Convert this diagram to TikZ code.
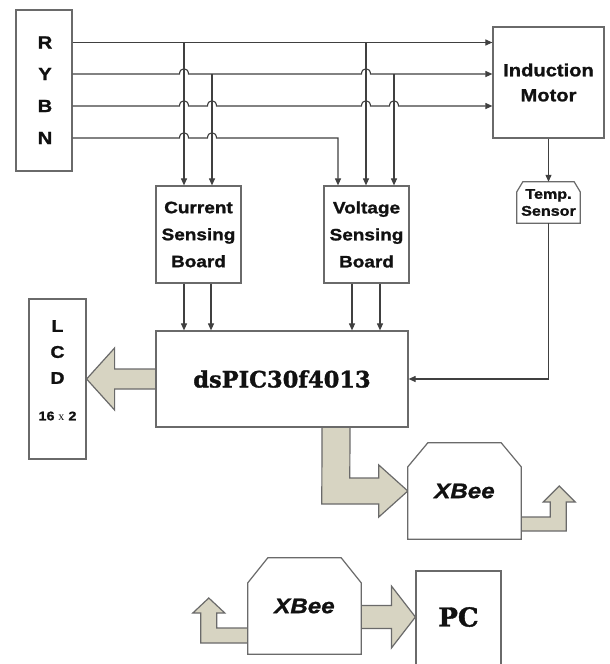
\documentclass[tikz,border=0pt]{standalone}
\usepackage{fontspec}
\setmainfont{Liberation Sans}
\newfontfamily\labf[FakeStretch=1.15, BoldFeatures={FakeBold=1.3}, BoldItalicFeatures={FakeBold=1.3}]{Liberation Sans}
\newfontfamily\slabf[BoldFeatures={FakeBold=1.5}]{DejaVu Serif}
\newfontfamily\timf{Liberation Serif}
\usetikzlibrary{arrows.meta,calc,backgrounds}
\definecolor{edge}{HTML}{6A6A6A}
\definecolor{wire}{HTML}{404040}
\definecolor{khaki}{HTML}{D7D4C2}
\definecolor{ink}{HTML}{111111}
\begin{document}
\begin{tikzpicture}[x=1pt,y=-1pt,
  box/.style={draw=edge, line width=1.2pt, fill=white, inner sep=0pt},
  ghost/.style={inner sep=0pt},
  lbl/.style={font=\labf\bfseries\fontsize{16.5}{27}\selectfont, text=ink, align=center, inner sep=0pt},
  big/.style={font=\labf\bfseries\fontsize{17.5}{25}\selectfont, text=ink, align=center, inner sep=0pt},
  small/.style={font=\labf\bfseries\fontsize{14}{17}\selectfont, text=ink, align=center, inner sep=0pt},
  slab/.style={font=\slabf\bfseries\fontsize{22.5}{27}\selectfont, text=ink, inner sep=0pt},
  xbt/.style={font=\labf\bfseries\itshape\fontsize{21}{22}\selectfont, text=ink, inner sep=0pt},
  wirel/.style={draw=wire, line width=1.1pt},
  arr/.style={wirel, -{Triangle[length=7pt,width=6pt]}},
  fat/.style={draw=edge, line width=1.2pt, fill=khaki, line join=miter}]
\useasboundingbox (0,0) rectangle (610,664);
\clip (0,0) rectangle (610,664);
\begin{scope}[on background layer]
\fill[white] (0,0) rectangle (610,664);
\end{scope}

% boxes
\node[box, minimum width=56pt, minimum height=161pt] (rybn) at (44,90.5) {};
\node[big] (R) at (45,42.5) {R};
\node[big] (Y) at (45,74) {Y};
\node[big] (B) at (45,106) {B};
\node[big] (N) at (45,138) {N};

\node[box, minimum width=111pt, minimum height=111pt, big] (motor) at (548.5,82.5) {Induction\\Motor};

\node[ghost, minimum width=63pt, minimum height=41pt] (temp) at (548.5,202.5) {};
\draw[box] ($(temp.north west)+(0,10)$) -- ($(temp.north west)+(6,0)$) -- ($(temp.north east)+(-6,0)$)
  -- ($(temp.north east)+(0,10)$) -- (temp.south east) -- (temp.south west) -- cycle;
\node[small] (tempt) at (temp.center) {Temp.\\Sensor};

\node[box, minimum width=85pt, minimum height=97pt, lbl] (cur) at (198.5,234.5) {Current\\Sensing\\Board};
\node[box, minimum width=85pt, minimum height=97pt, lbl] (volt) at (366.5,234.5) {Voltage\\Sensing\\Board};

\node[box, minimum width=57pt, minimum height=160pt] (lcd) at (57.5,379) {};
\node[big, font=\labf\bfseries\fontsize{17}{26}\selectfont] (lcdt) at (57.5,352) {L\\C\\D};
\node[big, font=\labf\bfseries\fontsize{12.5}{14}\selectfont] (lcdn) at (57.5,416) {16 {\timf\mdseries\fontsize{12}{14}\selectfont x} 2};

\node[box, minimum width=252pt, minimum height=96pt, slab] (pic) at (282,379) {dsPIC30f4013};

\node[ghost, minimum width=113pt, minimum height=96pt] (xb1) at (464.5,491) {};
\draw[box] ($(xb1.north west)+(0,24)$) -- ($(xb1.north west)+(20,0)$) -- ($(xb1.north east)+(-20,0)$)
  -- ($(xb1.north east)+(0,24)$) -- (xb1.south east) -- (xb1.south west) -- cycle;
\node[xbt] (xb1t) at (xb1.center) {XBee};

\node[ghost, minimum width=113pt, minimum height=96pt] (xb2) at (304.5,606) {};
\draw[box] ($(xb2.north west)+(0,25)$) -- ($(xb2.north west)+(20,0)$) -- ($(xb2.north east)+(-20,0)$)
  -- ($(xb2.north east)+(0,25)$) -- (xb2.south east) -- (xb2.south west) -- cycle;
\node[xbt] (xb2t) at (xb2.center) {XBee};

\node[box, minimum width=85pt, minimum height=110pt] (pcbox) at (458.5,626) {};
\node[font=\slabf\bfseries\fontsize{26}{30}\selectfont, text=ink, inner sep=0pt] (pc) at (458.5,617) {PC};

% columns
\coordinate (k1) at (184,0);
\coordinate (k2) at (212,0);
\coordinate (k3) at (338,0);
\coordinate (k4) at (366,0);
\coordinate (k5) at (394,0);
\coordinate (k6) at (352,0);
\coordinate (k7) at (380,0);

% phase lines
\draw[arr] (rybn.east |- R) -- (motor.west |- R);
\draw[arr] (rybn.east |- Y)
  -- ($(k1|-Y)+(-4.5,0)$) .. controls +(0,-7) and +(0,-7) .. ($(k1|-Y)+(4.5,0)$)
  -- ($(k4|-Y)+(-4.5,0)$) .. controls +(0,-7) and +(0,-7) .. ($(k4|-Y)+(4.5,0)$)
  -- (motor.west |- Y);
\draw[arr] (rybn.east |- B)
  -- ($(k1|-B)+(-4.5,0)$) .. controls +(0,-7) and +(0,-7) .. ($(k1|-B)+(4.5,0)$)
  -- ($(k2|-B)+(-4.5,0)$) .. controls +(0,-7) and +(0,-7) .. ($(k2|-B)+(4.5,0)$)
  -- ($(k4|-B)+(-4.5,0)$) .. controls +(0,-7) and +(0,-7) .. ($(k4|-B)+(4.5,0)$)
  -- ($(k5|-B)+(-4.5,0)$) .. controls +(0,-7) and +(0,-7) .. ($(k5|-B)+(4.5,0)$)
  -- (motor.west |- B);
\draw[arr] (rybn.east |- N)
  -- ($(k1|-N)+(-4.5,0)$) .. controls +(0,-7) and +(0,-7) .. ($(k1|-N)+(4.5,0)$)
  -- ($(k2|-N)+(-4.5,0)$) .. controls +(0,-7) and +(0,-7) .. ($(k2|-N)+(4.5,0)$)
  -- (k3 |- N) -- (k3 |- volt.north);

% taps
\draw[arr] (k1 |- R) -- (k1 |- cur.north);
\draw[arr] (k2 |- Y) -- (k2 |- cur.north);
\draw[arr] (k4 |- R) -- (k4 |- volt.north);
\draw[arr] (k5 |- Y) -- (k5 |- volt.north);

% boards to controller
\draw[arr] (k1 |- cur.south) -- (k1 |- pic.north);
\draw[arr] ($(k2 |- cur.south)+(-1,0)$) -- ($(k2 |- pic.north)+(-1,0)$);
\draw[arr] (k6 |- volt.south) -- (k6 |- pic.north);
\draw[arr] (k7 |- volt.south) -- (k7 |- pic.north);

% temperature
\draw[arr] (motor.south) -- (temp.north);
\draw[arr] (temp.south) |- (pic.east);

% fat arrows
\begin{scope}[on background layer]
\filldraw[fat] ($(pic.west)+(0,-10)$) -- ($(lcd.east)+(28,-10)$) -- ($(lcd.east)+(28,-31)$) -- (lcd.east)
  -- ($(lcd.east)+(28,31)$) -- ($(lcd.east)+(28,10)$) -- ($(pic.west)+(0,10)$);
\filldraw[fat] ($(pic.south)+(40,0)$) -- ($(xb1.west)+(-86,13)$) -- ($(xb1.west)+(-29,13)$) -- ($(xb1.west)+(-29,26)$)
  -- (xb1.west) -- ($(xb1.west)+(-29,-26)$) -- ($(xb1.west)+(-29,-13)$) -- ($(xb1.west)+(-58,-13)$)
  -- ($(pic.south)+(68,0)$);
\filldraw[fat] ($(xb1.east)+(0,26)$) -- ($(xb1.east)+(29,26)$) -- ($(xb1.east)+(29,11)$) -- ($(xb1.east)+(22,11)$)
  -- ($(xb1.east)+(38,-5)$) -- ($(xb1.east)+(54,11)$) -- ($(xb1.east)+(45,11)$) -- ($(xb1.east)+(45,40)$)
  -- ($(xb1.east)+(0,40)$);
\filldraw[fat] ($(xb2.east |- pc)+(0,-11.5)$) -- ($(pcbox.west |- pc)+(-24,-11.5)$) -- ($(pcbox.west |- pc)+(-24,-31)$)
  -- (pcbox.west |- pc) -- ($(pcbox.west |- pc)+(-24,31)$) -- ($(pcbox.west |- pc)+(-24,11.5)$)
  -- ($(xb2.east |- pc)+(0,11.5)$);
\filldraw[fat] ($(xb2.west)+(0,22)$) -- ($(xb2.west)+(-31,22)$) -- ($(xb2.west)+(-31,7)$) -- ($(xb2.west)+(-23,7)$)
  -- ($(xb2.west)+(-39,-8)$) -- ($(xb2.west)+(-55,7)$) -- ($(xb2.west)+(-47,7)$) -- ($(xb2.west)+(-47,37)$)
  -- ($(xb2.west)+(0,37)$);
\end{scope}
\end{tikzpicture}
\end{document}
